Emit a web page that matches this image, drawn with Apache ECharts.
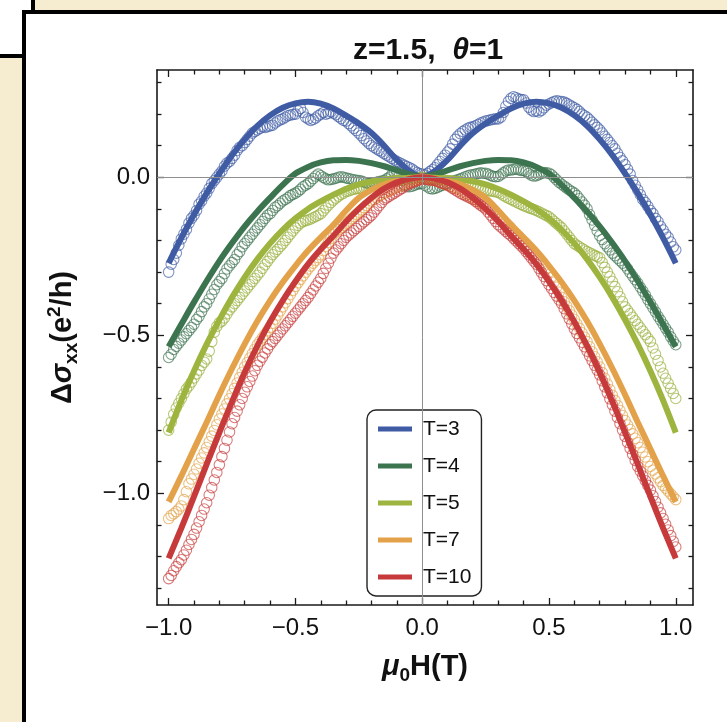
<!DOCTYPE html>
<html><head><meta charset="utf-8">
<script src="https://cdn.jsdelivr.net/npm/echarts@6/dist/echarts.min.js"></script>
<style>html,body{margin:0;padding:0;background:#fff}#c{width:727px;height:722px}</style>
</head><body><div id="c"></div><script>
// ---------- data ----------
const seriesNames = ['T=3', 'T=4', 'T=5', 'T=7', 'T=10'];
const seriesColors = ['#3E5BA3', '#3D7450', '#9DB43E', '#E3A24A', '#C73A3B'];
const circleColors = ['rgba(62,91,163,0.85)', 'rgba(61,116,80,0.85)', 'rgba(150,175,55,0.85)', 'rgba(227,162,74,0.85)', 'rgba(199,58,59,0.85)'];

// field grid of the measured points (mu0 H in T), step 0.01 from -1 to 1
const fieldGrid = Array.from({length: 201}, (_, i) => +(-1 + i * 0.01).toFixed(2));
// field grid of the fit curves
const fitGrid = [-1,-0.95,-0.9,-0.85,-0.8,-0.75,-0.7,-0.65,-0.6,-0.55,-0.5,-0.45,-0.4,-0.35,-0.3,-0.25,-0.2,-0.15,-0.1,-0.05,0,0.05,0.1,0.15,0.2,0.25,0.3,0.35,0.4,0.45,0.5,0.55,0.6,0.65,0.7,0.75,0.8,0.85,0.9,0.95,1];

const fitT3 = [-0.272,-0.192,-0.118,-0.05,0.012,0.07,0.12,0.163,0.196,0.22,0.234,0.239,0.233,0.218,0.195,0.17,0.14,0.10,0.055,0.02,0,0.02,0.055,0.10,0.14,0.17,0.195,0.218,0.233,0.239,0.234,0.22,0.196,0.163,0.12,0.07,0.012,-0.05,-0.118,-0.192,-0.272];
const fitT4 = [-0.536,-0.465,-0.395,-0.328,-0.265,-0.208,-0.155,-0.108,-0.065,-0.024,0.012,0.033,0.047,0.054,0.055,0.052,0.045,0.035,0.022,0.01,0,0.01,0.022,0.035,0.045,0.052,0.055,0.054,0.047,0.033,0.012,-0.024,-0.065,-0.108,-0.155,-0.208,-0.265,-0.328,-0.395,-0.465,-0.536];
const fitT5 = [-0.808,-0.706,-0.613,-0.528,-0.451,-0.38,-0.316,-0.259,-0.209,-0.166,-0.13,-0.10,-0.076,-0.055,-0.037,-0.022,-0.013,-0.006,-0.004,-0.001,0,-0.001,-0.004,-0.006,-0.013,-0.022,-0.037,-0.055,-0.076,-0.10,-0.13,-0.166,-0.209,-0.259,-0.316,-0.38,-0.451,-0.528,-0.613,-0.706,-0.808];
const fitT7 = [-1.027,-0.945,-0.86,-0.775,-0.688,-0.605,-0.527,-0.455,-0.39,-0.332,-0.28,-0.232,-0.19,-0.15,-0.105,-0.065,-0.04,-0.022,-0.012,-0.004,0,-0.004,-0.012,-0.022,-0.04,-0.065,-0.105,-0.15,-0.19,-0.232,-0.28,-0.332,-0.39,-0.455,-0.527,-0.605,-0.688,-0.775,-0.86,-0.945,-1.027];
const fitT10 = [-1.206,-1.11,-1.01,-0.908,-0.808,-0.71,-0.617,-0.533,-0.457,-0.39,-0.33,-0.275,-0.228,-0.185,-0.14,-0.10,-0.065,-0.036,-0.016,-0.005,0,-0.005,-0.016,-0.036,-0.065,-0.10,-0.14,-0.185,-0.228,-0.275,-0.33,-0.39,-0.457,-0.533,-0.617,-0.71,-0.808,-0.908,-1.01,-1.11,-1.206];

const dataT3 = [
-0.30,-0.275,-0.26,-0.24,-0.215, -0.195,-0.18,-0.165,-0.145,-0.13, -0.12,-0.105,-0.085,-0.075,-0.06, -0.05,-0.035,-0.02,-0.01,0.0,
0.01,0.02,0.035,0.045,0.05, 0.06,0.07,0.085,0.095,0.10, 0.11,0.12,0.13,0.14,0.145, 0.15,0.155,0.16,0.158,0.16,
0.163,0.165,0.172,0.178,0.182, 0.185,0.19,0.195,0.197,0.199, 0.20,0.21,0.218,0.205,0.19, 0.185,0.18,0.183,0.188,0.195,
0.20,0.205,0.2,0.203,0.207, 0.203,0.198,0.192,0.186,0.18, 0.178,0.17,0.163,0.155,0.148, 0.14,0.132,0.122,0.115,0.107,
0.10,0.095,0.09,0.085,0.08, 0.075,0.07,0.065,0.06,0.055, 0.05,0.046,0.042,0.038,0.034, 0.03,0.026,0.02,0.015,0.012,
0.01,0.008,0.012,0.018,0.024, 0.03,0.04,0.05,0.06,0.07, 0.08,0.09,0.105,0.12,0.13, 0.138,0.145,0.15,0.155,0.158,
0.16,0.163,0.167,0.172,0.175, 0.178,0.18,0.182,0.184,0.185, 0.185,0.19,0.205,0.225,0.24, 0.25,0.255,0.252,0.248,0.246,
0.245,0.235,0.222,0.213,0.208, 0.21,0.207,0.212,0.22,0.228, 0.232,0.236,0.24,0.242,0.241, 0.24,0.238,0.234,0.229,0.225,
0.22,0.215,0.208,0.2,0.195, 0.19,0.182,0.174,0.166,0.158, 0.15,0.14,0.13,0.12,0.11, 0.10,0.09,0.076,0.063,0.052,
0.04,0.025,0.01,-0.01,-0.025, -0.04,-0.055,-0.07,-0.08,-0.092, -0.105,-0.115,-0.13,-0.14,-0.155, -0.167,-0.18,-0.19,-0.205,-0.22,
-0.23];
const dataT4 = [
-0.57,-0.56,-0.545,-0.535,-0.525, -0.515,-0.505,-0.495,-0.485,-0.475, -0.465,-0.45,-0.44,-0.425,-0.41, -0.40,-0.385,-0.37,-0.355,-0.34,
-0.33,-0.32,-0.305,-0.29,-0.28, -0.27,-0.26,-0.245,-0.235,-0.22, -0.21,-0.2,-0.19,-0.18,-0.17, -0.16,-0.15,-0.14,-0.13,-0.12,
-0.115,-0.105,-0.095,-0.09,-0.082, -0.075,-0.07,-0.065,-0.058,-0.054, -0.05,-0.045,-0.038,-0.03,-0.025, -0.02,-0.012,-0.004,0.004,0.01,
0.005,0.0,-0.005,-0.008,-0.007, -0.005,-0.003,0.0,0.002,0.0, -0.002,-0.004,-0.006,-0.008,-0.009, -0.01,-0.012,-0.015,-0.018,-0.02,
-0.02,-0.018,-0.016,-0.013,-0.012, -0.01,-0.005,0.0,0.008,0.015, 0.015,0.005,-0.01,-0.025,-0.03, -0.03,-0.028,-0.025,-0.022,-0.02,
-0.02,-0.025,-0.03,-0.035,-0.037, -0.035,-0.032,-0.028,-0.025,-0.022, -0.02,-0.017,-0.013,-0.01,-0.008, -0.005,-0.002,0.002,0.005,0.007,
0.008,0.01,0.012,0.014,0.013, 0.013,0.01,0.006,0.003,0.002, 0.003,0.008,0.014,0.02,0.023, 0.023,0.025,0.026,0.024,0.022,
0.022,0.018,0.012,0.007,0.004, 0.005,0.008,0.012,0.015,0.014, 0.013,0.008,0.0,-0.008,-0.016, -0.022,-0.028,-0.034,-0.04,-0.045,
-0.05,-0.058,-0.068,-0.078,-0.088, -0.10,-0.118,-0.135,-0.152,-0.17, -0.185,-0.197,-0.21,-0.22,-0.23, -0.24,-0.248,-0.256,-0.264,-0.272,
-0.28,-0.29,-0.302,-0.313,-0.324, -0.335,-0.348,-0.36,-0.373,-0.387, -0.40,-0.413,-0.426,-0.44,-0.452, -0.465,-0.478,-0.49,-0.505,-0.518,
-0.53];
const dataT5 = [
-0.80,-0.775,-0.75,-0.73,-0.715, -0.70,-0.685,-0.67,-0.66,-0.648, -0.635,-0.622,-0.61,-0.595,-0.585, -0.575,-0.55,-0.52,-0.49,-0.472,
-0.46,-0.455,-0.445,-0.432,-0.42, -0.41,-0.40,-0.39,-0.38,-0.37, -0.36,-0.35,-0.34,-0.33,-0.32, -0.31,-0.30,-0.288,-0.277,-0.266,
-0.255,-0.245,-0.236,-0.228,-0.219, -0.21,-0.2,-0.19,-0.18,-0.17, -0.16,-0.152,-0.145,-0.14,-0.137, -0.135,-0.132,-0.128,-0.124,-0.12,
-0.115,-0.106,-0.097,-0.088,-0.08, -0.072,-0.066,-0.06,-0.054,-0.05, -0.045,-0.043,-0.04,-0.038,-0.036, -0.035,-0.034,-0.032,-0.03,-0.029,
-0.028,-0.026,-0.024,-0.022,-0.02, -0.019,-0.017,-0.015,-0.013,-0.011, -0.01,-0.009,-0.008,-0.007,-0.006, -0.005,-0.004,-0.003,-0.002,-0.001,
0.0,-0.001,-0.002,-0.003,-0.004, -0.005,-0.006,-0.007,-0.008,-0.009, -0.01,-0.011,-0.012,-0.013,-0.014, -0.015,-0.017,-0.019,-0.021,-0.023,
-0.025,-0.028,-0.031,-0.034,-0.037, -0.04,-0.042,-0.043,-0.045,-0.046, -0.048,-0.052,-0.057,-0.062,-0.066, -0.07,-0.074,-0.078,-0.082,-0.086,
-0.09,-0.093,-0.096,-0.099,-0.102, -0.105,-0.109,-0.113,-0.117,-0.121, -0.125,-0.132,-0.139,-0.146,-0.153, -0.16,-0.17,-0.18,-0.19,-0.2,
-0.21,-0.215,-0.22,-0.225,-0.23, -0.235,-0.239,-0.243,-0.247,-0.251, -0.255,-0.27,-0.285,-0.3,-0.315, -0.33,-0.346,-0.362,-0.378,-0.394,
-0.41,-0.421,-0.432,-0.443,-0.454, -0.465,-0.476,-0.487,-0.498,-0.509, -0.52,-0.54,-0.56,-0.58,-0.60, -0.62,-0.636,-0.652,-0.668,-0.684,
-0.70];
const dataT7 = [
-1.08,-1.07,-1.065,-1.058,-1.05, -1.04,-1.02,-0.995,-0.97,-0.955, -0.94,-0.923,-0.905,-0.888,-0.872, -0.855,-0.837,-0.819,-0.801,-0.783,
-0.765,-0.749,-0.733,-0.717,-0.701, -0.685,-0.668,-0.651,-0.634,-0.617, -0.60,-0.586,-0.572,-0.558,-0.544, -0.53,-0.519,-0.508,-0.497,-0.486,
-0.475,-0.462,-0.449,-0.436,-0.423, -0.41,-0.397,-0.384,-0.371,-0.358, -0.345,-0.334,-0.323,-0.312,-0.301, -0.29,-0.281,-0.272,-0.263,-0.254,
-0.245,-0.232,-0.219,-0.206,-0.193, -0.18,-0.173,-0.166,-0.159,-0.152, -0.145,-0.138,-0.131,-0.124,-0.117, -0.11,-0.103,-0.096,-0.089,-0.082,
-0.075,-0.07,-0.065,-0.06,-0.055, -0.05,-0.046,-0.043,-0.039,-0.036, -0.032,-0.029,-0.025,-0.022,-0.018, -0.015,-0.013,-0.011,-0.009,-0.007,
-0.005,-0.006,-0.007,-0.008,-0.009, -0.01,-0.013,-0.016,-0.019,-0.022, -0.025,-0.028,-0.031,-0.034,-0.037, -0.04,-0.045,-0.05,-0.055,-0.06,
-0.065,-0.07,-0.075,-0.08,-0.085, -0.09,-0.096,-0.102,-0.108,-0.114, -0.12,-0.128,-0.136,-0.144,-0.152, -0.16,-0.169,-0.178,-0.187,-0.196,
-0.205,-0.214,-0.223,-0.232,-0.241, -0.25,-0.26,-0.27,-0.28,-0.29, -0.30,-0.316,-0.332,-0.348,-0.364, -0.38,-0.394,-0.408,-0.422,-0.436,
-0.45,-0.464,-0.478,-0.492,-0.506, -0.52,-0.536,-0.552,-0.568,-0.584, -0.60,-0.618,-0.636,-0.654,-0.672, -0.69,-0.706,-0.722,-0.738,-0.754,
-0.77,-0.784,-0.798,-0.812,-0.826, -0.84,-0.855,-0.87,-0.885,-0.90, -0.915,-0.927,-0.939,-0.951,-0.963, -0.975,-0.984,-0.993,-1.002,-1.011,
-1.02];
const dataT10 = [
-1.27,-1.26,-1.245,-1.232,-1.22, -1.21,-1.195,-1.18,-1.162,-1.146, -1.13,-1.11,-1.09,-1.07,-1.05, -1.03,-1.006,-0.982,-0.958,-0.934,
-0.91,-0.884,-0.858,-0.832,-0.806, -0.78,-0.76,-0.74,-0.72,-0.70, -0.68,-0.663,-0.646,-0.629,-0.612, -0.595,-0.582,-0.569,-0.556,-0.543,
-0.53,-0.52,-0.51,-0.50,-0.49, -0.48,-0.47,-0.46,-0.45,-0.44, -0.43,-0.42,-0.41,-0.40,-0.39, -0.38,-0.368,-0.356,-0.344,-0.332,
-0.32,-0.304,-0.288,-0.272,-0.256, -0.24,-0.23,-0.22,-0.21,-0.20, -0.19,-0.183,-0.176,-0.169,-0.162, -0.155,-0.148,-0.141,-0.134,-0.127,
-0.12,-0.11,-0.10,-0.09,-0.08, -0.07,-0.065,-0.06,-0.055,-0.05, -0.045,-0.04,-0.035,-0.03,-0.025, -0.02,-0.017,-0.014,-0.011,-0.008,
-0.005,-0.006,-0.007,-0.008,-0.009, -0.01,-0.013,-0.016,-0.019,-0.022, -0.025,-0.03,-0.035,-0.04,-0.045, -0.05,-0.054,-0.058,-0.062,-0.066,
-0.07,-0.076,-0.082,-0.088,-0.094, -0.10,-0.11,-0.12,-0.13,-0.14, -0.15,-0.157,-0.164,-0.171,-0.178, -0.185,-0.193,-0.201,-0.209,-0.217,
-0.225,-0.235,-0.245,-0.255,-0.265, -0.275,-0.288,-0.301,-0.314,-0.327, -0.34,-0.352,-0.364,-0.376,-0.388, -0.40,-0.416,-0.432,-0.448,-0.464,
-0.48,-0.494,-0.508,-0.522,-0.536, -0.55,-0.565,-0.58,-0.595,-0.61, -0.625,-0.644,-0.663,-0.682,-0.701, -0.72,-0.74,-0.76,-0.78,-0.80,
-0.82,-0.839,-0.858,-0.877,-0.896, -0.915,-0.93,-0.945,-0.96,-0.975, -0.99,-1.008,-1.026,-1.044,-1.062, -1.08,-1.098,-1.116,-1.134,-1.152,
-1.17];

const xMajorTicks = [-1, -0.5, 0, 0.5, 1];
const xMinorTicks = [-0.9,-0.8,-0.7,-0.6,-0.4,-0.3,-0.2,-0.1,0.1,0.2,0.3,0.4,0.6,0.7,0.8,0.9];
const yMajorTicks = [0, -0.5, -1];
const yMinorTicks = [0.3,0.2,0.1,-0.1,-0.2,-0.3,-0.4,-0.6,-0.7,-0.8,-0.9,-1.1,-1.2,-1.3];

const fits = [fitT3, fitT4, fitT5, fitT7, fitT10];
const measured = [dataT3, dataT4, dataT5, dataT7, dataT10];

// ---------- chart ----------
const FONT = '"Liberation Sans", Arial, Helvetica, sans-serif';
const X_MIN = -1.046, X_MAX = 1.068, Y_MIN = -1.3535, Y_MAX = 0.3396;
const fmt = v => (v < 0 ? '\u2212' : '') + Math.abs(v).toFixed(1);
const AX = '#1a1a1a';

function xAx(pos, major, showLine, showLabel) {
  return {
    type: 'value', position: pos, min: X_MIN, max: X_MAX, gridIndex: 0,
    axisLine: {show: showLine, onZero: false, lineStyle: {color: AX, width: 1.6}},
    axisTick: {show: true, inside: true, length: major ? 7 : 4.5, customValues: major ? xMajorTicks : xMinorTicks, lineStyle: {color: AX, width: 1.3}},
    axisLabel: {show: showLabel, customValues: xMajorTicks, formatter: fmt, fontSize: 24, fontFamily: FONT, color: '#111', margin: 11},
    splitLine: {show: false}
  };
}
function yAx(pos, major, showLine, showLabel) {
  return {
    type: 'value', position: pos, min: Y_MIN, max: Y_MAX, gridIndex: 0,
    axisLine: {show: showLine, onZero: false, lineStyle: {color: AX, width: 1.6}},
    axisTick: {show: true, inside: true, length: major ? 7 : 4.5, customValues: major ? yMajorTicks : yMinorTicks, lineStyle: {color: AX, width: 1.3}},
    axisLabel: {show: showLabel, customValues: yMajorTicks, formatter: fmt, fontSize: 24, fontFamily: FONT, color: '#111', margin: 7},
    splitLine: {show: false}
  };
}

const nameRich = {
  n: {fontSize: 29, fontWeight: 'bold', fontFamily: FONT, color: '#111', lineHeight: 36, verticalAlign: 'middle'},
  i: {fontSize: 29, fontWeight: 'bold', fontStyle: 'italic', fontFamily: FONT, color: '#111', lineHeight: 36, verticalAlign: 'middle'},
  sub: {fontSize: 19, fontWeight: 'bold', fontFamily: FONT, color: '#111', lineHeight: 19, verticalAlign: 'bottom'},
  sup: {fontSize: 19, fontWeight: 'bold', fontFamily: FONT, color: '#111', lineHeight: 19, verticalAlign: 'top'}
};

const xAxes = [xAx('bottom', true, true, true), xAx('bottom', false, false, false), xAx('top', true, true, false), xAx('top', false, false, false)];
xAxes[0].name = '{i|\u03bc}{sub|0}{n|H(T)}';
xAxes[0].nameLocation = 'middle';
xAxes[0].nameGap = 44;
xAxes[0].nameTextStyle = {fontFamily: FONT, fontWeight: 'bold', color: '#111', rich: nameRich};

const yAxes = [yAx('left', true, true, true), yAx('left', false, false, false), yAx('right', true, true, false), yAx('right', false, false, false)];
yAxes[0].name = '{n|\u0394}{i|\u03c3}{sub|xx}{n|(e}{sup|2}{n|/h)}';
yAxes[0].nameLocation = 'middle';
yAxes[0].nameGap = 76;
yAxes[0].nameRotate = 90;
yAxes[0].nameTextStyle = {fontFamily: FONT, fontWeight: 'bold', color: '#111', rich: nameRich};

const series = [];
series.push({
  type: 'line', data: [], silent: true, z: 1,
  markLine: {silent: true, symbol: 'none', animation: false, label: {show: false},
    lineStyle: {color: '#8e8e8e', width: 1, type: 'solid'},
    data: [{xAxis: 0}, {yAxis: 0}]}
});
for (let k = 0; k < 5; k++) {
  series.push({
    type: 'scatter', name: seriesNames[k] + ' data', z: 2, silent: true,
    symbol: 'circle', symbolSize: 10.5,
    itemStyle: {color: 'rgba(255,255,255,0)', borderColor: circleColors[k], borderWidth: 1.05},
    data: fieldGrid.map((x, i) => [x, measured[k][i]])
  });
}
for (let k = 0; k < 5; k++) {
  series.push({
    type: 'line', name: seriesNames[k], z: 3, silent: true,
    showSymbol: false, smooth: 0.35,
    lineStyle: {color: seriesColors[k], width: 6},
    itemStyle: {color: seriesColors[k]},
    data: fitGrid.map((x, i) => [x, fits[k][i]])
  });
}

const BEIGE = '#F6EDD0';
const option = {
  animation: false,
  backgroundColor: '#ffffff',
  title: {
    text: '{a|z=1.5,  }{b|\u03b8}{a|=1}',
    left: 423, top: 31, textAlign: 'center',
    textStyle: {
      rich: {
        a: {fontSize: 30, fontWeight: 'bold', fontFamily: FONT, color: '#111'},
        b: {fontSize: 30, fontWeight: 'bold', fontStyle: 'italic', fontFamily: FONT, color: '#111'}
      }
    }
  },
  grid: {left: 157, top: 70, width: 536, height: 535, containLabel: false},
  xAxis: xAxes,
  yAxis: yAxes,
  legend: {
    data: seriesNames, orient: 'vertical', left: 367, top: 410,
    padding: [8, 10, 8, 11], itemWidth: 34, itemHeight: 5, itemGap: 15,
    icon: 'rect', selectedMode: false,
    borderColor: '#222', borderWidth: 1.4, borderRadius: 9,
    textStyle: {fontSize: 21, fontFamily: FONT, color: '#111', lineHeight: 22, padding: [0, 0, 0, 6]}
  },
  graphic: [
    {type: 'rect', shape: {x: 35, y: 0, width: 692, height: 10}, style: {fill: BEIGE}, z: 100},
    {type: 'rect', shape: {x: 0, y: 58, width: 22, height: 664}, style: {fill: BEIGE}, z: 100},
    {type: 'rect', shape: {x: 31, y: 0, width: 4, height: 12}, style: {fill: '#000'}, z: 101},
    {type: 'rect', shape: {x: 22, y: 10, width: 705, height: 4}, style: {fill: '#000'}, z: 101},
    {type: 'rect', shape: {x: 22, y: 10, width: 4, height: 712}, style: {fill: '#000'}, z: 101},
    {type: 'rect', shape: {x: 0, y: 54, width: 26, height: 4}, style: {fill: '#000'}, z: 101}
  ],
  series: series
};

const chart = echarts.init(document.getElementById('c'), null, {renderer: 'canvas'});
chart.setOption(option);
</script></body></html>
